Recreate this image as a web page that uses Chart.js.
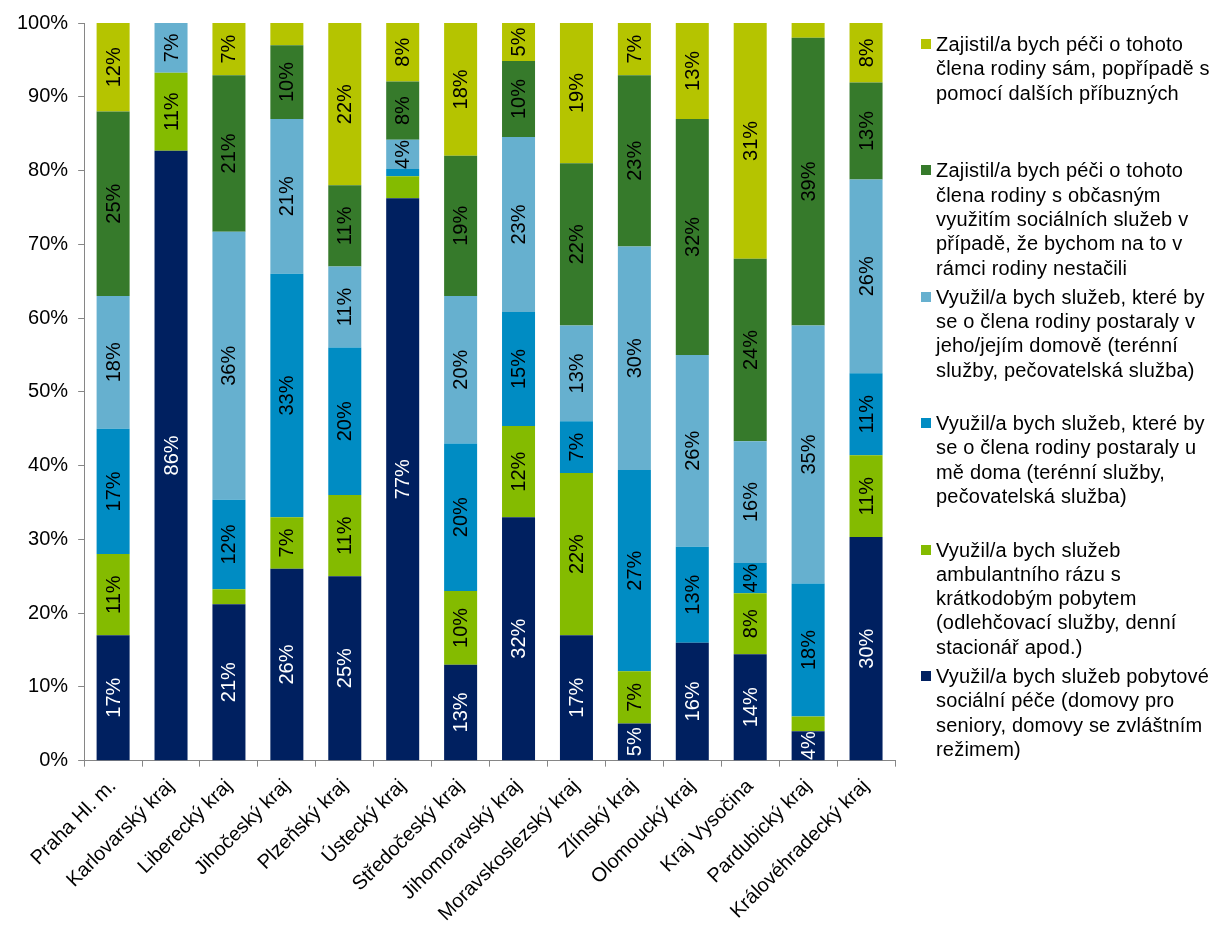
<!DOCTYPE html>
<html>
<head>
<meta charset="utf-8">
<script src="https://cdn.jsdelivr.net/npm/chart.js@4"></script>
<style>
    html, body { margin: 0; padding: 0; background: #fff; }
    #wrap { position: relative; width: 1232px; height: 942px; }
    #legend { position: absolute; left: 921px; top: 0; font-family: "Liberation Sans", Arial, sans-serif; font-size: 20px; line-height: 24.3px; color: #000; }
    .item { position: absolute; left: 0; width: 310px; }
    .sw { position: absolute; left: 0; top: 7px; width: 10px; height: 10px; }
    .txt { margin-left: 15px; white-space: nowrap; letter-spacing: 0.2px; }
</style>
</head>
<body>
<div id="wrap">
    <canvas id="chart" width="1232" height="942"></canvas>
    <div id="legend"></div>
</div>
<script>
// Kraje
const kraje = ['Praha Hl. m.', 'Karlovarský kraj', 'Liberecký kraj', 'Jihočeský kraj', 'Plzeňský kraj',
    'Ústecký kraj', 'Středočeský kraj', 'Jihomoravský kraj', 'Moravskoslezský kraj', 'Zlínský kraj',
    'Olomoucký kraj', 'Kraj Vysočina', 'Pardubický kraj', 'Královéhradecký kraj'];

// Hodnoty v % (tak jak jsou popsané v grafu)
const pobytove   = [17, 86, 21, 26, 25, 77, 13, 32, 17,  5, 16, 14,  4, 30];
const ambulantni = [11, 11,  2,  7, 11,  3, 10, 12, 22,  7,  0,  8,  2, 11];
const uMeDoma    = [17,  0, 12, 33, 20,  1, 20, 15,  7, 27, 13,  4, 18, 11];
const vDomove    = [18,  7, 36, 21, 11,  4, 20, 23, 13, 30, 26, 16, 35, 26];
const obcasne    = [25,  0, 21, 10, 11,  8, 19, 10, 22, 23, 32, 24, 39, 13];
const sam        = [12,  0,  7,  3, 22,  8, 18,  5, 19,  7, 13, 31,  2,  8];

// Osa Y
const yTicks = [0, 10, 20, 30, 40, 50, 60, 70, 80, 90, 100];

// Nazvy rad (zalomene jako v legende)
const nazvy = [
    ['Využil/a bych služeb pobytové', 'sociální péče (domovy pro', 'seniory, domovy se zvláštním', 'režimem)'],
    ['Využil/a bych služeb', 'ambulantního rázu s', 'krátkodobým pobytem', '(odlehčovací služby, denní', 'stacionář apod.)'],
    ['Využil/a bych služeb, které by', 'se o člena rodiny postaraly u', 'mě doma (terénní služby,', 'pečovatelská služba)'],
    ['Využil/a bych služeb, které by', 'se o člena rodiny postaraly v', 'jeho/jejím domově (terénní', 'služby, pečovatelská služba)'],
    ['Zajistil/a bych péči o tohoto', 'člena rodiny s občasným', 'využitím sociálních služeb v', 'případě, že bychom na to v', 'rámci rodiny nestačili'],
    ['Zajistil/a bych péči o tohoto', 'člena rodiny sám, popřípadě s', 'pomocí dalších příbuzných']
];
const barvy = ['#002060', '#84bb00', '#008cc3', '#66b0cf', '#367a2b', '#b5c400'];

const FONT = '"Liberation Sans", Arial, sans-serif';
const rady = [pobytove, ambulantni, uMeDoma, vDomove, obcasne, sam];

// 100% skladany graf - soucty za kraj
const soucty = kraje.map((k, j) => rady.reduce((s, r) => s + r[j], 0));

const datasets = rady.map((r, i) => ({
    label: nazvy[i].join(' '),
    data: r.map((v, j) => v / soucty[j] * 100),
    raw: r,
    backgroundColor: barvy[i],
    borderWidth: 0,
    categoryPercentage: 1,
    barPercentage: 0.57
}));

// Popisky v pruzich (otocene o 90 stupnu)
const popiskyPlugin = {
    id: 'popisky',
    afterDatasetsDraw(chart) {
        const ctx = chart.ctx;
        ctx.save();
        ctx.font = '20px ' + FONT;
        ctx.textAlign = 'center';
        ctx.textBaseline = 'middle';
        chart.data.datasets.forEach((ds, i) => {
            const meta = chart.getDatasetMeta(i);
            meta.data.forEach((bar, j) => {
                const v = ds.raw[j];
                if (v < 4) return;
                ctx.save();
                ctx.translate(bar.x + 1, (bar.y + bar.base) / 2);
                ctx.rotate(-Math.PI / 2);
                ctx.fillStyle = i === 0 ? '#fff' : '#000';
                ctx.fillText(v + '%', 0, 0);
                ctx.restore();
            });
        });
        ctx.restore();
    }
};

new Chart(document.getElementById('chart').getContext('2d'), {
    type: 'bar',
    data: { labels: kraje, datasets: datasets },
    options: {
        responsive: false,
        animation: false,
        layout: { padding: { left: 7, right: 337, top: 23, bottom: 8 } },
        plugins: { legend: { display: false }, tooltip: { enabled: false } },
        scales: {
            x: {
                stacked: true,
                border: { color: '#868686' },
                grid: { display: true, drawOnChartArea: false, drawTicks: true, tickLength: 6, color: '#868686' },
                ticks: { color: '#000', font: { size: 20, family: FONT }, minRotation: 45, maxRotation: 45, padding: 8, autoSkip: false }
            },
            y: {
                stacked: true,
                min: 0,
                max: 100,
                afterBuildTicks: (axis) => { axis.ticks = yTicks.map(v => ({ value: v })); },
                border: { color: '#868686' },
                grid: { display: true, drawOnChartArea: false, drawTicks: true, tickLength: 6, color: '#868686' },
                ticks: { color: '#000', font: { size: 20, family: FONT }, padding: 10, callback: v => v + '%' }
            }
        }
    },
    plugins: [popiskyPlugin]
});

// Legenda - poradi shora jako v originale (obracene)
const legend = document.getElementById('legend');
for (let k = 0; k < nazvy.length; k++) {
    const i = nazvy.length - 1 - k;
    const item = document.createElement('div');
    item.className = 'item';
    item.style.top = (32 + k * 126.4) + 'px';
    item.innerHTML = '<div class="sw" style="background:' + barvy[i] + '"></div><div class="txt">' + nazvy[i].join('<br>') + '</div>';
    legend.appendChild(item);
}
</script>
</body>
</html>
